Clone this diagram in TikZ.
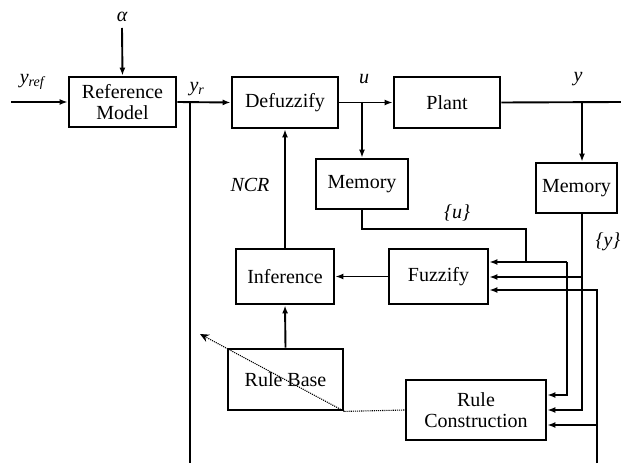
\documentclass[tikz,border=0pt]{standalone}
\usepackage{fontspec}
\setmainfont{Liberation Serif}
\usetikzlibrary{arrows.meta}
\begin{document}
\begin{tikzpicture}[x=1pt,y=-1pt,
  box/.style={draw,line width=2.8pt,inner sep=0pt,align=center,font=\rmfamily\fontsize{20}{20.5}\selectfont},
  ln/.style={line width=1.9pt},
  arr/.style={ln,-{Latex[length=8pt,width=6pt]}},
  lbl/.style={font=\rmfamily\fontsize{20}{21}\selectfont\itshape,inner sep=0pt},
  dot/.style={line width=1.1pt,densely dotted}]
\useasboundingbox (0,0) rectangle (621,465);
% boxes
\node[box,minimum width=107pt,minimum height=50pt] (refm) at (122.5,102) {Reference\\Model};
\node[box,minimum width=106pt,minimum height=51pt] (defz) at (285,102.5) {Defuzzify};
\node[box,minimum width=106pt,minimum height=51pt] (plant) at (447,102.5) {Plant};
\node[box,minimum width=92pt,minimum height=50pt] (mem1) at (362,184) {Memory};
\node[box,minimum width=81pt,minimum height=50pt] (mem2) at (576.5,188) {Memory};
\node[box,minimum width=99pt,minimum height=55pt] (fuzz) at (438.5,276.5) {Fuzzify};
\node[box,minimum width=98pt,minimum height=55pt] (infer) at (285,276.5) {Inference};
\node[box,minimum width=115pt,minimum height=61pt] (rbase) at (285.5,379.5) {Rule Base};
\node[box,minimum width=140pt,minimum height=60pt] (rcons) at (476,410) {Rule\\Construction};
% labels
\node[lbl] (la) at (122,17) {α};
\node[lbl] (lyref) at (32,82) {y\textsubscript{ref}};
\node[lbl] (lyr) at (197,89) {y\textsubscript{r}};
\node[lbl] (lu) at (364,79) {u};
\node[lbl] (ly) at (578,79) {y};
\node[lbl] (lncr) at (250,185) {NCR};
\node[lbl] (lub) at (457,213) {\{u\}};
\node[lbl] (lyb) at (608,242) {\{y\}};
% coordinates
\coordinate (atop) at (122,28);
\coordinate (yin) at (11,102);
\coordinate (yrj) at (190,102);
\coordinate (yrend) at (190,463);
\coordinate (uj) at (362,102);
\coordinate (yj) at (582,102);
\coordinate (yout) at (621,102);
\coordinate (u1) at (362,229);
\coordinate (u2) at (526,229);
\coordinate (u3) at (526,262);
\coordinate (u4) at (567,262);
\coordinate (u5) at (567,395);
\coordinate (y0) at (582,213);
\coordinate (y1) at (582,277);
\coordinate (y2) at (582,410);
\coordinate (w1) at (597,290);
\coordinate (w2) at (597,425);
\coordinate (w3) at (597,463);
\coordinate (dtip) at (200,334);
% connectors
\draw[arr] (atop) -- (refm.north);
\draw[arr] (yin) -- (refm.west);
\draw[arr] (refm.east) -- (defz.west);
\draw[ln] (yrj) -- (yrend);
\draw[arr] (defz.east) -- (plant.west);
\draw[arr] (uj) -- (mem1.north);
\draw[ln] (plant.east) -- (yout);
\draw[arr] (yj) -- (yj |- mem2.north);
\draw[arr] (infer.north) -- (defz.south);
\draw[arr] (fuzz.west) -- (infer.east);
\draw[arr] (rbase.north) -- (infer.south);
% {u}
\draw[ln] (mem1.south) -- (u1) -- (u2) -- (u3);
\draw[arr] (u4) -- (u4 -| fuzz.east);
\draw[arr] (u4) -- (u5) -- (u5 -| rcons.east);
% {y}
\draw[arr] (y0) -- (y2) -- (y2 -| rcons.east);
\draw[arr] (y1) -- (y1 -| fuzz.east);
% third
\draw[arr] (w3) -- (w1) -- (w1 -| fuzz.east);
\draw[arr] (w2) -- (w2 -| rcons.east);
% dotted
\draw[dot] (rbase.south east) -- (rcons.west);
\draw[dot,-{Stealth[length=9pt,width=8pt,inset=3pt]}] (rbase.south east) -- (dtip);
\end{tikzpicture}
\end{document}
